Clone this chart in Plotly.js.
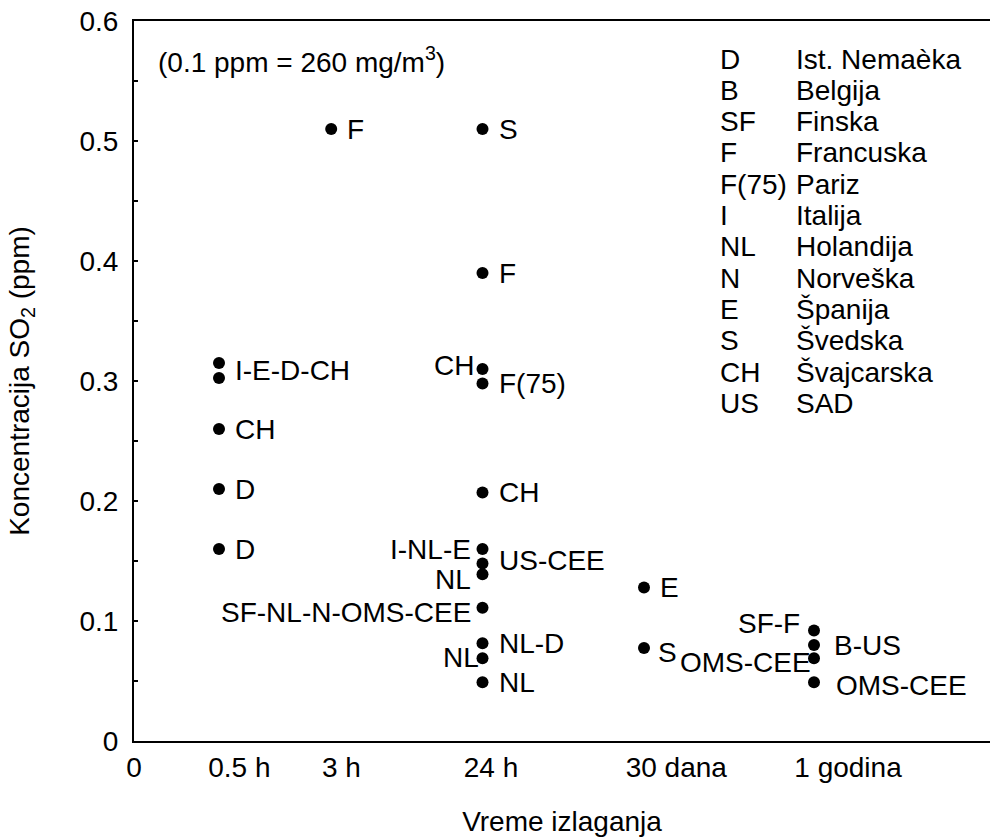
<!DOCTYPE html>
<html>
<head>
<meta charset="utf-8">
<script src="https://cdn.plot.ly/plotly-3.0.1.min.js"></script>
<style>html,body{margin:0;padding:0;background:#fff;}#chart{width:990px;height:838px;}</style>
</head>
<body>
<div id="chart"></div>
<script>
// Exposure-time categories and their x positions on the numeric axis
const categories = ["0.5 h", "3 h", "24 h", "30 dana", "1 godina"];
const categoryX = [0.5, 1.16, 2.05, 3.0, 4.0];

// Tick labels on the x axis
const tickLabels = ["0", "0.5 h", "3 h", "24 h", "30 dana", "1 godina"];
const tickPositions = [0, 0.62, 1.22, 2.10, 3.19, 4.20];

// Points: category index, SO2 concentration (ppm), label
const pointCat = [0, 0, 0, 0, 0,
                  1,
                  2, 2, 2, 2, 2, 2, 2, 2, 2, 2, 2, 2,
                  3, 3,
                  4, 4, 4, 4];
const pointPpm = [0.315, 0.3025, 0.26, 0.21, 0.16,
                  0.51,
                  0.51, 0.39, 0.31, 0.298, 0.207, 0.16, 0.148, 0.139, 0.111, 0.0815, 0.069, 0.049,
                  0.128, 0.0775,
                  0.092, 0.080, 0.069, 0.049];
const pointLabel = ["I-E-D-CH", "", "CH", "D", "D",
                    "F",
                    "S", "F", "CH", "F(75)", "CH", "I-NL-E", "US-CEE", "NL", "SF-NL-N-OMS-CEE", "NL-D", "NL", "NL",
                    "E", "S",
                    "SF-F", "B-US", "OMS-CEE", "OMS-CEE"];
const labelSide = ["r", "", "r", "r", "r",
                   "r",
                   "r", "r", "l", "r", "r", "l", "r", "l", "l", "r", "l", "r",
                   "r", "r",
                   "l", "r", "l", "r"];

// Country key
const keyAbbr = ["D", "B", "SF", "F", "F(75)", "I", "NL", "N", "E", "S", "CH", "US"];
const keyName = ["Ist. Nemaèka", "Belgija", "Finska", "Francuska", "Pariz", "Italija",
                 "Holandija", "Norveška", "Španija", "Švedska", "Švajcarska", "SAD"];

// ---- styling / layout helpers (not data) ----
const FONT = "Liberation Sans, Arial, Helvetica, sans-serif";
const FS = 28;
const labelTweak = { // [dx, dy] pixel nudges per point index
  0: [0, -7], 8: [3, 4], 12: [0, 3], 13: [0, -5], 14: [0, -5],
  16: [8, 1], 19: [-2, -4], 20: [-2, 7], 21: [4, 0], 22: [9, -4], 23: [6, -3]
};

const xs = pointCat.map(c => categoryX[c]);

const trace = {
  type: "scatter",
  mode: "markers",
  x: xs,
  y: pointPpm,
  marker: {color: "#000", size: 12},
  hoverinfo: "skip",
  showlegend: false
};

const annotations = [];
pointLabel.forEach((t, i) => {
  if (!t) return;
  const tw = labelTweak[i] || [0, 0];
  const right = labelSide[i] === "r";
  annotations.push({
    x: xs[i], y: pointPpm[i], xref: "x", yref: "y",
    text: t, showarrow: false,
    xanchor: right ? "left" : "right", yanchor: "middle",
    xshift: (right ? 16 : -12) + tw[0], yshift: tw[1],
    borderpad: 0, borderwidth: 0,
    font: {family: FONT, size: FS, color: "#000"}
  });
});

// Note
annotations.push({
  xref: "paper", yref: "paper", x: 0.028, y: 1 - 39 / 720,
  xanchor: "left", yanchor: "middle", showarrow: false,
  text: "(0.1 ppm = 260 mg/m<sup>3</sup>)",
  borderpad: 0, borderwidth: 0,
  font: {family: FONT, size: FS, color: "#000"}
});

// Key
const rowGap = 31.3;
keyAbbr.forEach((a, i) => {
  const yp = 1 - (38 + i * rowGap) / 720;
  annotations.push({
    xref: "paper", yref: "paper", x: (720 - 134) / 856, y: yp,
    xanchor: "left", yanchor: "middle", showarrow: false, text: a,
    borderpad: 0, borderwidth: 0,
    font: {family: FONT, size: FS, color: "#000"}
  });
  annotations.push({
    xref: "paper", yref: "paper", x: (796 - 134) / 856, y: yp,
    xanchor: "left", yanchor: "middle", showarrow: false, text: keyName[i],
    borderpad: 0, borderwidth: 0,
    font: {family: FONT, size: FS, color: "#000"}
  });
});

const layout = {
  width: 990, height: 838,
  margin: {l: 134, r: 0, t: 21, b: 97},
  paper_bgcolor: "#fff", plot_bgcolor: "#fff",
  font: {family: FONT, size: FS, color: "#000"},
  showlegend: false,
  xaxis: {
    range: [0, 856 / 170],
    showgrid: false, zeroline: false,
    showline: true, linecolor: "#000", linewidth: 2, mirror: true,
    ticks: "",
    tickmode: "array", tickvals: tickPositions, ticktext: tickLabels,
    tickfont: {family: FONT, size: FS, color: "#000"},
    title: {text: "Vreme izlaganja", font: {family: FONT, size: FS, color: "#000"}, standoff: 30},
    fixedrange: true
  },
  yaxis: {
    range: [0, 0.6],
    showgrid: false, zeroline: false,
    showline: true, linecolor: "#000", linewidth: 2,
    ticks: "inside", ticklen: 4, tickwidth: 1.5, tickcolor: "#000",
    tickmode: "array", tickvals: [0, 0.1, 0.2, 0.3, 0.4, 0.5, 0.6],
    ticktext: ["0", "0.1", "0.2", "0.3", "0.4", "0.5", "0.6"],
    minor: {ticks: "inside", ticklen: 4, tickwidth: 1.5, tickcolor: "#000", tickvals: [0.05, 0.15, 0.25, 0.35, 0.45, 0.55]},
    tickfont: {family: FONT, size: FS, color: "#000"},
    ticklabelstandoff: 8,
    title: {text: "Koncentracija SO<sub>2</sub> (ppm)", font: {family: FONT, size: FS, color: "#000"}, standoff: 42},
    fixedrange: true
  },
  annotations: annotations
};

Plotly.newPlot("chart", [trace], layout, {staticPlot: true, displayModeBar: false});
</script>
</body>
</html>
